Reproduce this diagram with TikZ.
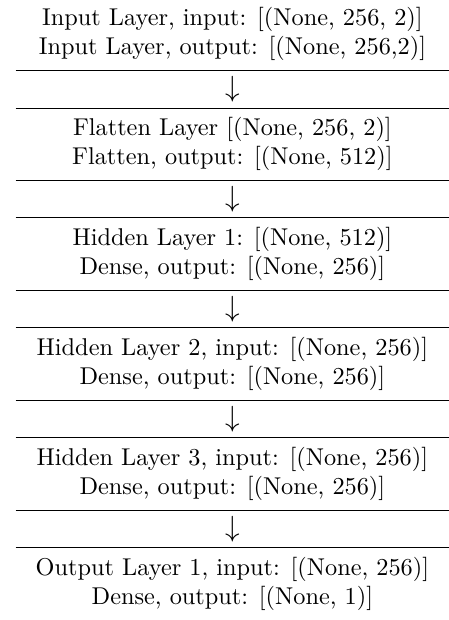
\documentclass[tikz,border=0pt]{standalone}
\usetikzlibrary{positioning}

\begin{document}
\begin{tikzpicture}[x=0.4115pt, y=-0.4115pt,
    layer/.style={align=center, inner sep=0pt},
    flow/.style={inner sep=0pt, minimum height=15pt, font=\large}]
  \useasboundingbox (0,0) rectangle (449,620);
  \coordinate (L) at (15.7,0);
  \coordinate (R) at (449,0);

  % Layer rows
  \foreach \i/\t in {
      0/{Input Layer, input: [(None, 256, 2)]\\Input Layer, output: [(None, 256,2)]},
      1/{Flatten Layer [(None, 256, 2)]\\Flatten, output: [(None, 512)]},
      2/{Hidden Layer 1: [(None, 512)]\\Dense, output: [(None, 256)]},
      3/{Hidden Layer 2, input: [(None, 256)]\\Dense, output: [(None, 256)]},
      4/{Hidden Layer 3, input: [(None, 256)]\\Dense, output: [(None, 256)]},
      5/{Output Layer 1, input: [(None, 256)]\\Dense, output: [(None, 1)]}} {
    \node[layer] (l\i) at (232.4, 34+109.9*\i) {\t};
  }

  % Arrows between rows, with rules above and below
  \foreach \i in {0,...,4} {
    \node[flow] (a\i) at (232.4, 89.3+109.9*\i) {$\downarrow$};
    \draw (a\i.north -| L) -- (a\i.north -| R);
    \draw (a\i.south -| L) -- (a\i.south -| R);
  }
\end{tikzpicture}
\end{document}
